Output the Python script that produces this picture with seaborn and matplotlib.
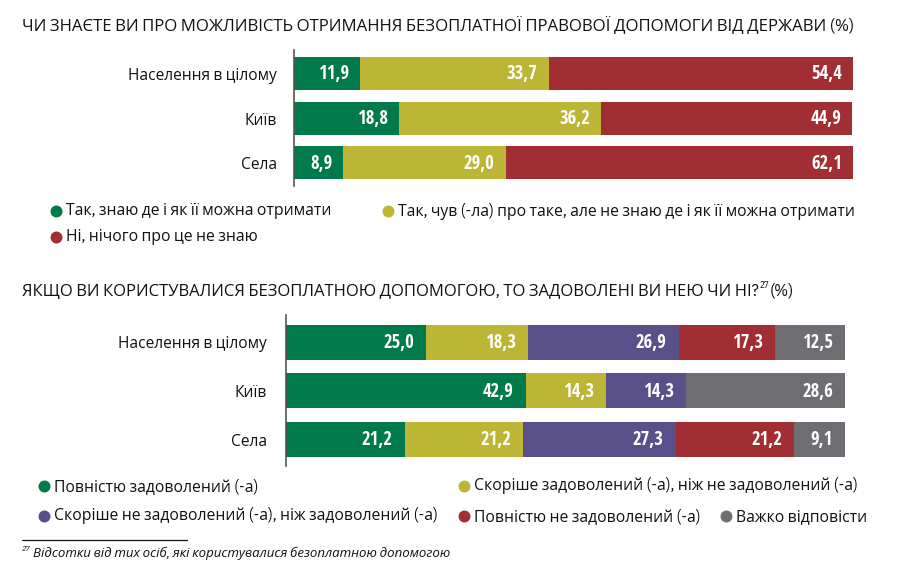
import matplotlib
matplotlib.use("Agg")
import matplotlib.pyplot as plt
from matplotlib.lines import Line2D
import seaborn as sns
import pandas as pd
import numpy as np

sns.set_theme(style="white")
FONT = ["IBM Plex Sans Condensed", "Open Sans", "DejaVu Sans"]
VALUE_FONT = ["Open Sans Condensed", "IBM Plex Sans Condensed", "DejaVu Sans"]
plt.rcParams["font.family"] = FONT

# ---------------- data ----------------
groups = ["Населення в цілому", "Київ", "Села"]

q1_title = "ЧИ ЗНАЄТЕ ВИ ПРО МОЖЛИВІСТЬ ОТРИМАННЯ БЕЗОПЛАТНОЇ ПРАВОВОЇ ДОПОМОГИ ВІД ДЕРЖАВИ (%)"
q1_series = ["Так, знаю де і як її можна отримати",
             "Так, чув (-ла) про таке, але не знаю де і як її можна отримати",
             "Ні, нічого про це не знаю"]
q1_know = [11.9, 18.8, 8.9]
q1_heard = [33.7, 36.2, 29.0]
q1_no = [54.4, 44.9, 62.1]

q2_title = "ЯКЩО ВИ КОРИСТУВАЛИСЯ БЕЗОПЛАТНОЮ ДОПОМОГОЮ, ТО ЗАДОВОЛЕНІ ВИ НЕЮ ЧИ НІ?"
q2_series = ["Повністю задоволений (-а)",
             "Скоріше задоволений (-а), ніж не задоволений (-а)",
             "Скоріше не задоволений (-а), ніж задоволений (-а)",
             "Повністю не задоволений (-а)",
             "Важко відповісти"]
q2_full = [25.0, 42.9, 21.2]
q2_rather = [18.3, 14.3, 21.2]
q2_rather_not = [26.9, 14.3, 27.3]
q2_not = [17.3, 0.0, 21.2]
q2_hard = [12.5, 28.6, 9.1]

footnote = "Відсотки від тих осіб, які користувалися безоплатною допомогою"

GREEN = "#007A4A"
OLIVE = "#BDB535"
RED = "#A02E33"
PURPLE = "#5A5089"
GRAY = "#6D6D72"
INK = "#111111"

W, H = 897, 568
fig = plt.figure(figsize=(W / 100, H / 100), dpi=100)
fig.patch.set_facecolor("white")
renderer = fig.canvas.get_renderer()


def fx(x):
    return x / W


def fy(y):
    return 1 - y / H


def fit_size(s, target_w, **kw):
    t = fig.text(0, 0, s, fontsize=12, **kw)
    w = t.get_window_extent(renderer).width
    t.remove()
    return 12 * target_w / w


LABEL_FS = fit_size("Населення в цілому", 148)
VALUE_FS = fit_size("11,9", 31, fontweight="bold", family=VALUE_FONT)
TITLE_FS = fit_size(q1_title, 853 - 22)
TITLE2_FS = fit_size(q2_title, 757 - 22)
LEG_FS = fit_size(q1_series[0], 331 - 67)
FOOT_FS = fit_size(footnote, 451 - 33, style="italic")


def make_axes(x0, x1, y0, y1):
    return fig.add_axes([fx(x0), fy(y1), fx(x1 - x0), (y1 - y0) / H])


def stacked(ax, values, colors, bar_px, pitch, pad_px, top_off_px, total_px, label_pad):
    arr = np.array(values, dtype=float)
    cum = np.cumsum(arr, axis=0)
    for i in range(len(values) - 1, -1, -1):
        df = pd.DataFrame({"group": groups, "v": cum[i]})
        sns.barplot(data=df, x="v", y="group", orient="h", color=colors[i],
                    width=bar_px / pitch, saturation=1, linewidth=0,
                    edgecolor="none", ax=ax)
    ax.set_xlim(0, 100)
    px_per_unit = ax.get_window_extent(renderer).width / 100
    for i in range(len(values)):
        for j in range(len(groups)):
            v = arr[i, j]
            if v <= 0:
                continue
            ax.text(cum[i, j] - pad_px / px_per_unit, j + 0.02,
                    f"{v:.1f}".replace(".", ","),
                    ha="right", va="center", color="white", fontsize=VALUE_FS,
                    fontweight="bold", family=VALUE_FONT)
    n = len(groups)
    top = -top_off_px / pitch
    ax.set_ylim(top + total_px / pitch, top)
    ax.set_xlabel("")
    ax.set_ylabel("")
    ax.set_xticks([])
    ax.set_yticks(range(n))
    ax.set_yticklabels(groups, fontsize=LABEL_FS, color=INK)
    ax.tick_params(axis="y", length=0, pad=label_pad)
    for s in ["top", "right", "bottom"]:
        ax.spines[s].set_visible(False)
    ax.spines["left"].set_color("#555555")
    ax.spines["left"].set_linewidth(1.2)
    ax.set_facecolor("none")


# ---------------- top chart ----------------
ax1 = make_axes(293.7, 853, 50, 186)
stacked(ax1, [q1_know, q1_heard, q1_no], [GREEN, OLIVE, RED],
        bar_px=33, pitch=44.6, pad_px=11, top_off_px=23.5, total_px=136,
        label_pad=12)

# ---------------- bottom chart ----------------
ax2 = make_axes(286.3, 845, 315, 466)
stacked(ax2, [q2_full, q2_rather, q2_rather_not, q2_not, q2_hard],
        [GREEN, OLIVE, PURPLE, RED, GRAY],
        bar_px=35, pitch=48.25, pad_px=12, top_off_px=27.5, total_px=151,
        label_pad=14)

# ---------------- titles ----------------
fig.text(fx(22), fy(25), q1_title, ha="left", va="center",
         fontsize=TITLE_FS, color=INK)

t2 = fig.text(fx(22), fy(291), q2_title, ha="left", va="center",
              fontsize=TITLE2_FS, color=INK)
x_end = t2.get_window_extent(renderer).x1 + 0.5
sup = fig.text(x_end / W, fy(285), "27", ha="left", va="center",
               fontsize=TITLE2_FS * 0.55, color=INK)
x_end2 = sup.get_window_extent(renderer).x1 + 0.5
fig.text(x_end2 / W, fy(291), "(%)", ha="left", va="center",
         fontsize=TITLE2_FS, color=INK)


# ---------------- legends ----------------
def legend_item(x_dot, y, color, label):
    fig.add_artist(Line2D([fx(x_dot)], [fy(y)], marker="o", markersize=7.6,
                          color=color, linestyle="none",
                          transform=fig.transFigure))
    return fig.text(fx(x_dot + 10), fy(y), label, ha="left", va="center",
                    fontsize=LEG_FS, color=INK)


legend_item(56, 211, GREEN, q1_series[0])
legend_item(388, 211, OLIVE, q1_series[1])
legend_item(56, 237, RED, q1_series[2])

legend_item(44, 486, GREEN, q2_series[0])
legend_item(464, 486, OLIVE, q2_series[1])
legend_item(44, 516, PURPLE, q2_series[2])
legend_item(464, 516, RED, q2_series[3])
legend_item(726, 516, GRAY, q2_series[4])

# ---------------- footnote ----------------
fig.add_artist(Line2D([fx(22), fx(187)], [fy(540), fy(540)], color=INK,
                      linewidth=0.9, transform=fig.transFigure))
fig.text(fx(22), fy(549), "27", ha="left", va="center", fontsize=FOOT_FS * 0.6,
         style="italic", color=INK)
fig.text(fx(33), fy(553), footnote, ha="left", va="center", fontsize=FOOT_FS,
         style="italic", color=INK)

fig.savefig("out.png", dpi=100, facecolor="white")
